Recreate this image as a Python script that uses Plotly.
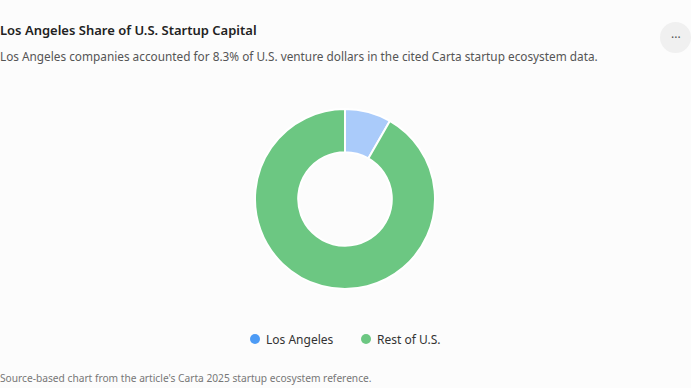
import plotly.graph_objects as go

labels = ["Los Angeles", "Rest of U.S."]
shares = [8.3, 91.7]
slice_colors = ["#aacbfa", "#6cc782"]
legend_colors = ["#4d9bf5", "#6cc782"]

title = "Los Angeles Share of U.S. Startup Capital"
subtitle = "Los Angeles companies accounted for 8.3% of U.S. venture dollars in the cited Carta startup ecosystem data."
source = "Source-based chart from the article's Carta 2025 startup ecosystem reference."

W, H = 691, 388
FONT = "Noto Sans, Open Sans, sans-serif"

fig = go.Figure()
fig.add_trace(go.Pie(
    labels=labels, values=shares, hole=0.52, sort=False, direction="clockwise",
    rotation=0, marker=dict(colors=slice_colors, line=dict(color="white", width=2)),
    textinfo="none", hoverinfo="label+percent", showlegend=False,
    domain=dict(x=[255 / W, 435 / W], y=[(H - 289) / H, (H - 109) / H]),
))

# manual legend (marker dot + label) positioned like the reference
legend_marker_x = [255, 366]
legend_y = 339
shapes = [dict(type="circle", xref="paper", yref="paper",
               x0=660 / W, x1=691 / W, y0=(H - 53) / H, y1=(H - 22) / H,
               fillcolor="#f0f0f0", line=dict(width=0), layer="below")]
annotations = []
for lab, col, mx in zip(labels, legend_colors, legend_marker_x):
    shapes.append(dict(type="circle", xref="paper", yref="paper",
                       x0=(mx - 5) / W, x1=(mx + 5) / W,
                       y0=(H - legend_y - 5) / H, y1=(H - legend_y + 5) / H,
                       fillcolor=col, line=dict(width=0)))
    annotations.append(dict(text=lab, x=(mx + 11) / W, y=(H - legend_y) / H,
                            xref="paper", yref="paper", xanchor="left", yanchor="middle",
                            showarrow=False, xshift=-2,
                            font=dict(size=12, color="#333", family=FONT)))

annotations += [
    dict(text=title, x=0, y=(H - 30) / H, xref="paper", yref="paper",
         xanchor="left", yanchor="middle", showarrow=False, xshift=-2,
         font=dict(size=13, color="#222", family=FONT, weight=600)),
    dict(text=subtitle, x=0, y=(H - 56) / H, xref="paper", yref="paper",
         xanchor="left", yanchor="middle", showarrow=False, xshift=-2,
         font=dict(size=11.8, color="#555", family=FONT)),
    dict(text=source, x=0, y=(H - 378) / H, xref="paper", yref="paper",
         xanchor="left", yanchor="middle", showarrow=False, xshift=-2,
         font=dict(size=10.2, color="#777", family=FONT)),
    dict(text="···", x=675.5 / W, y=(H - 37.5) / H, xref="paper", yref="paper",
         xanchor="center", yanchor="middle", showarrow=False,
         font=dict(size=12, color="#555", family=FONT)),
]

fig.update_layout(
    width=W, height=H, margin=dict(l=0, r=0, t=0, b=0),
    paper_bgcolor="#fcfcfc", plot_bgcolor="#fcfcfc",
    font=dict(family=FONT, color="#333"),
    shapes=shapes, annotations=annotations,
)

fig.write_html("out.html", config={"displayModeBar": False})
